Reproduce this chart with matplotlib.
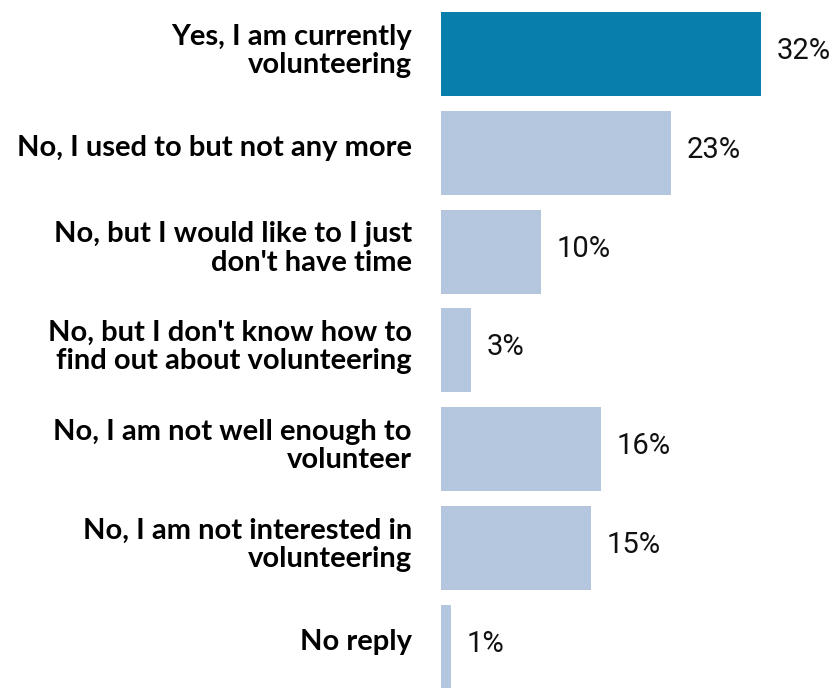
import matplotlib.pyplot as plt
from matplotlib.transforms import ScaledTranslation

categories = [
    "Yes, I am currently\nvolunteering",
    "No, I used to but not any more",
    "No, but I would like to I just\ndon't have time",
    "No, but I don't know how to\nfind out about volunteering",
    "No, I am not well enough to\nvolunteer",
    "No, I am not interested in\nvolunteering",
    "No reply",
]
values = [32, 23, 10, 3, 16, 15, 1]
value_labels = ["32%", "23%", "10%", "3%", "16%", "15%", "1%"]

dark = "#077eac"
light = "#b5c7df"
colors = [dark] + [light] * (len(values) - 1)

fig = plt.figure(figsize=(8.34, 6.88), dpi=100)
ax = fig.add_axes([441 / 834, 0, 1 - 441 / 834, 1])

pos = list(range(len(values)))
ax.barh(pos, values, height=0.85, color=colors)

for y, v, lab in zip(pos, values, value_labels):
    ax.text(v + 1.6, y - 0.03, lab, va="center", ha="left",
            fontsize=21, family="Roboto", color="#111111")

ax.set_yticks(pos)
ax.set_yticklabels(categories, fontsize=21, family="Lato", fontweight="bold",
                   linespacing=1.12)
ax.tick_params(axis="y", length=0, pad=21)
# nudge the category labels up a little
shift = ScaledTranslation(0, 5 / 72, fig.dpi_scale_trans)
for lbl in ax.get_yticklabels():
    lbl.set_transform(lbl.get_transform() + shift)
ax.set_xticks([])
ax.set_xlim(0, 39.3)
ax.set_ylim(6.417, -0.547)
for s in ax.spines.values():
    s.set_visible(False)

fig.savefig("out.png", dpi=100)
